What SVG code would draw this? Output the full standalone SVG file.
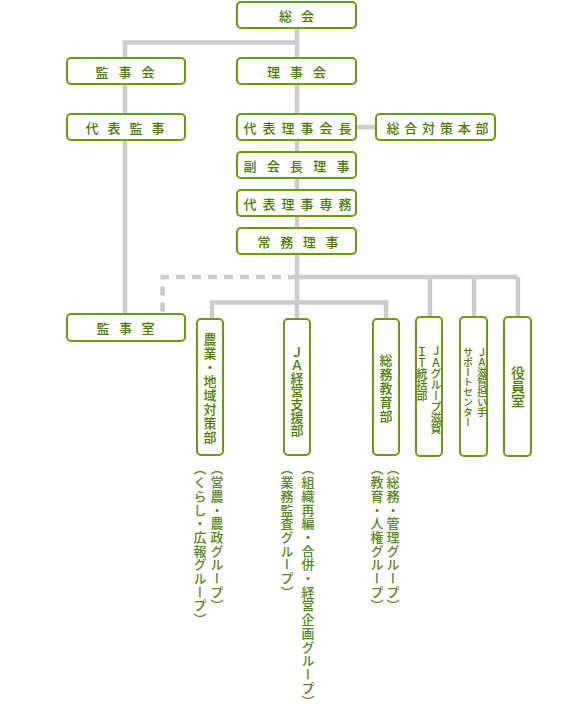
<svg xmlns="http://www.w3.org/2000/svg" width="580" height="708" viewBox="0 0 580 708">
<style>
.box{fill:#fff;stroke:#6c9c0e;stroke-width:2}
.t{font-family:"Noto Sans CJK JP","Noto Sans CJK SC",sans-serif;font-size:13px;font-weight:500;fill:#4a7a02;text-anchor:middle;dominant-baseline:central}
.v{font-family:"Noto Sans CJK JP","Noto Sans CJK SC",sans-serif;font-size:13px;font-weight:500;fill:#4a7a02;writing-mode:vertical-rl}
.n{font-family:"Noto Sans CJK JP","Noto Sans CJK SC",sans-serif;font-size:13px;font-weight:500;fill:#56861a;writing-mode:vertical-rl;letter-spacing:0.7px}
.ln{fill:none;stroke:#cccccc;stroke-width:4.5}
.dash{fill:none;stroke:#cccccc;stroke-width:4.5;stroke-dasharray:9 7}
</style>
<rect width="580" height="708" fill="#fff"/>
<g id="connectors">
<path class="ln" d="M297 29V318M297 42.5H125V313M357 127H375M297 277H518M212 318V302.5H386V318M430 277V316M474 277V316M518 277V316"/>
<path class="dash" d="M297 277H162.5V313"/>
</g>
<g id="soukai"><rect class="box" x="237" y="2" width="119" height="26" rx="4"/><text class="t" x="285.5 307.5" y="15">総会</text></g>
<g id="kanjikai"><rect class="box" x="67" y="58" width="118" height="26" rx="4"/><text class="t" x="102 125 148" y="71">監事会</text></g>
<g id="rijikai"><rect class="box" x="237" y="58" width="119" height="26" rx="4"/><text class="t" x="273.5 296.5 319.5" y="71">理事会</text></g>
<g id="daihyokanji"><rect class="box" x="67" y="114" width="118" height="26" rx="4"/><text class="t" x="92 114 136 158" y="127">代表監事</text></g>
<g id="daihyorijikaicho"><rect class="box" x="237" y="114" width="119" height="26" rx="4"/><text class="t" x="250 269 288 307 326 345" y="127">代表理事会長</text></g>
<g id="sogotaisaku"><rect class="box" x="376" y="114" width="119" height="26" rx="4"/><text class="t" x="393 410.8 428.6 446.4 464.2 482" y="127">総合対策本部</text></g>
<g id="fukukaicho"><rect class="box" x="237" y="152" width="119" height="26" rx="4"/><text class="t" x="250 273.25 296.5 319.75 343" y="165">副会長理事</text></g>
<g id="daihyosenmu"><rect class="box" x="237" y="190" width="119" height="26" rx="4"/><text class="t" x="250 269 288 307 326 345" y="203">代表理事専務</text></g>
<g id="jomu"><rect class="box" x="237" y="228" width="119" height="26" rx="4"/><text class="t" x="264 286.7 309.3 332" y="241">常務理事</text></g>
<g id="kanjishitsu"><rect class="box" x="67" y="314" width="118" height="27" rx="4"/><text class="t" x="103 125.5 148" y="327.5">監事室</text></g>
<g id="nogyo"><rect class="box" x="197" y="319" width="26" height="136" rx="4"/><text class="v" x="210" y="333" style="letter-spacing:1px">農業・地域対策部</text>
<text class="n" x="217" y="462">（営農・農政グループ）</text><text class="n" x="200" y="462">（くらし・広報グループ）</text></g>
<g id="jakeiei"><rect class="box" x="284" y="319" width="26" height="136" rx="4"/><text class="v" x="297" y="346">ＪＡ経営支援部</text>
<text class="n" x="308" y="462">（組織再編・合併・経営企画グループ）</text><text class="n" x="287" y="462">（業務監査グループ）</text></g>
<g id="somukyoiku"><rect class="box" x="373" y="319" width="26" height="136" rx="4"/><text class="v" x="386" y="354" style="letter-spacing:1px">総務教育部</text>
<text class="n" x="393" y="462">（総務・管理グループ）</text><text class="n" x="377" y="462">（教育・人権グループ）</text></g>
<g id="jagroupit"><rect class="box" x="416" y="317" width="26" height="139" rx="4"/><text class="v" x="436" y="346" style="font-size:11px">ＪＡグループ滋賀</text><text class="v" x="422" y="346" style="font-size:11px">ＩＴ統括部</text></g>
<g id="ninaite"><rect class="box" x="460" y="317" width="27" height="139" rx="4"/><text class="v" x="482" y="347" style="font-size:10px">ＪＡ滋賀担い手</text><text class="v" x="468" y="347" style="font-size:10px">サポートセンター</text></g>
<g id="yakuin"><rect class="box" x="504" y="317" width="27" height="139" rx="4"/><text class="v" x="518" y="366" style="font-size:14px">役員室</text></g>
</svg>
